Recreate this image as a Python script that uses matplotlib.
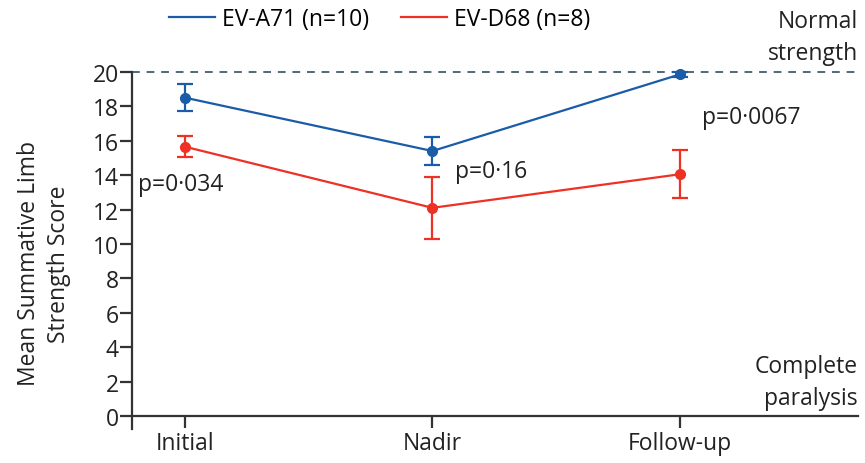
import matplotlib
matplotlib.use("Agg")
import matplotlib.pyplot as plt
from matplotlib.lines import Line2D

# values
stages = ["Initial", "Nadir", "Follow-up"]
a71_mean = [18.5, 15.4, 19.85]
a71_err = [0.8, 0.8, 0.15]
d68_mean = [15.65, 12.1, 14.05]
d68_err = [0.6, 1.8, 1.4]
pvals = ["p=0·034", "p=0·16", "p=0·0067"]
yticks = list(range(0, 21, 2))

blue = "#1a5ca8"
red = "#ee3124"
dark = "#333333"
txt = "#222222"
fs = 16.5

plt.rcParams["font.family"] = ["Open Sans", "DejaVu Sans"]
plt.rcParams["font.size"] = fs

fig = plt.figure(figsize=(8.65, 4.64), dpi=100)
ax = fig.add_axes([132 / 865, 34 / 464, 726 / 865, 426 / 464])

x = list(range(len(stages)))
ax.errorbar(x, a71_mean, yerr=a71_err, color=blue, marker="o", ms=7,
            lw=1.6, capsize=6, capthick=1.6, elinewidth=1.6, zorder=3)
ax.errorbar(x, d68_mean, yerr=d68_err, color=red, marker="o", ms=7,
            lw=1.6, capsize=6, capthick=1.6, elinewidth=1.6, zorder=3)

ax.axhline(20, color="#4d6b78", lw=1.4, ls=(0, (4, 3.5)), zorder=1)

ax.set_xlim(-0.214, 2.72)
ax.set_ylim(-0.75, 24)

ax.spines["top"].set_visible(False)
ax.spines["right"].set_visible(False)
ax.spines["left"].set_bounds(-0.75, 20)
ax.spines["bottom"].set_position(("data", 0))
for s in ("left", "bottom"):
    ax.spines[s].set_linewidth(1.6)
    ax.spines[s].set_color(dark)

ax.set_yticks(yticks)
ax.set_xticks(x)
ax.set_xticklabels(stages)
ax.tick_params(axis="both", direction="out", length=8.5, width=1.6,
               color=dark, labelcolor=txt, labelsize=fs, pad=1)
ax.tick_params(axis="x", pad=2)

# p-values
ax.text(-0.19, 13.5, pvals[0], va="center", ha="left", color=txt)
ax.text(1.09, 14.25, pvals[1], va="center", ha="left", color=txt)
ax.text(2.09, 17.4, pvals[2], va="center", ha="left", color=txt)

ax.text(2.72, 22.0, "Normal\nstrength", ha="right", va="center",
        linespacing=1.45, color=txt)
ax.text(2.72, 2.0, "Complete\nparalysis", ha="right", va="center",
        linespacing=1.45, color=txt)

fig.text(44 / 865, 1 - 264 / 464, "Mean Summative Limb\nStrength Score",
         rotation=90, ha="center", va="center", linespacing=1.3,
         fontsize=fs, color=txt)

handles = [Line2D([], [], color=blue, lw=1.6), Line2D([], [], color=red, lw=1.6)]
fig.legend(handles, ["EV-A71 (n=10)", "EV-D68 (n=8)"], ncol=2, frameon=False,
           loc="center left", bbox_to_anchor=(160 / 865, 1 - 20 / 464),
           handlelength=2.0, handletextpad=0.3, columnspacing=1.4,
           fontsize=fs, borderaxespad=0)

fig.savefig("out.png", dpi=100)
